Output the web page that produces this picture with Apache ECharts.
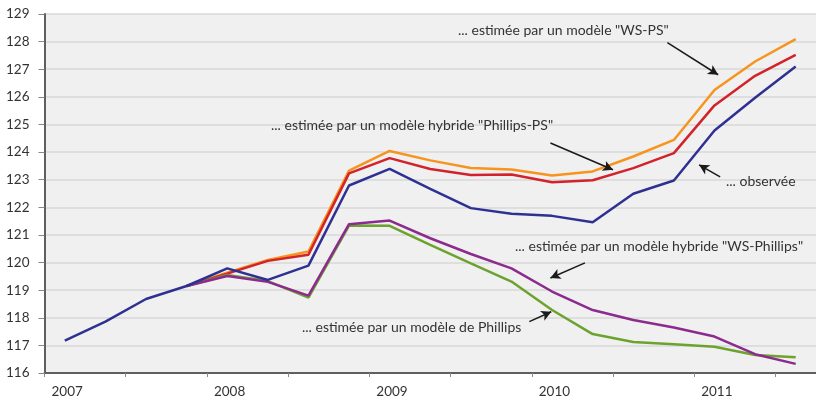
<!DOCTYPE html>
<html>
<head>
<meta charset="utf-8">
<script src="https://cdn.jsdelivr.net/npm/echarts@6/dist/echarts.min.js"></script>
<style>
html,body{margin:0;padding:0;background:#fff;}
#c{width:816px;height:401px;}
</style>
</head>
<body>
<div id="c"></div>
<script>
// Quarterly observations 2007Q1 .. 2011Q3
const startYear = 2007;
const quarters = ['2007T1','2007T2','2007T3','2007T4','2008T1','2008T2','2008T3','2008T4','2009T1','2009T2','2009T3','2009T4','2010T1','2010T2','2010T3','2010T4','2011T1','2011T2','2011T3'];
const observed   = [117.17,117.86,118.68,119.15,119.79,119.37,119.89,122.79,123.39,122.67,121.97,121.77,121.69,121.46,122.49,122.97,124.78,125.97,127.10];
const wsPs       = [null,null,null,119.15,119.63,120.09,120.40,123.33,124.04,123.70,123.42,123.37,123.15,123.30,123.84,124.44,126.25,127.28,128.09];
const phillipsPs = [null,null,null,119.15,119.60,120.06,120.28,123.23,123.78,123.39,123.17,123.19,122.91,122.98,123.42,123.96,125.69,126.76,127.52];
const wsPhillips = [null,null,null,119.15,119.51,119.30,118.80,121.39,121.52,120.88,120.31,119.79,118.95,118.28,117.92,117.65,117.32,116.68,116.33];
const phillips   = [null,null,null,119.15,119.55,119.33,118.73,121.34,121.33,120.64,119.97,119.31,118.28,117.41,117.12,117.04,116.95,116.65,116.57];
const yTicks = {min:116, max:129, step:1};

const toXY = arr => arr.map((v,i) => [i + 0.5, v]);
const FONT = 'Lato';

const annotations = [
  {text:'... estimée par un modèle "WS-PS"', x:458, y:32},
  {text:'... estimée par un modèle hybride "Phillips-PS"', x:271, y:127},
  {text:'... observée', x:726, y:183},
  {text:'... estimée par un modèle hybride "WS-Phillips"', x:515, y:248},
  {text:'... estimée par un modèle de Phillips', x:302, y:329}
];
const arrows = [
  [[15.34,127.96],[16.59,126.80]],
  [[12.46,124.33],[14.00,123.36]],
  [[16.64,123.10],[16.12,123.54]],
  [[13.31,119.99],[12.46,119.44]],
  [[11.94,117.86],[12.48,118.22]]
];

const chart = echarts.init(document.getElementById('c'), null, {renderer:'canvas'});
const mkLine = (name, data, color, extra) => Object.assign({
  name, type:'line', data: toXY(data), symbol:'none', connectNulls:false,
  lineStyle:{color, width:2.5}, itemStyle:{color}, animation:false, z:2
}, extra||{});

chart.setOption({
  animation:false,
  grid:{left:44.5, top:14, width:19*40.9, bottom:28, show:true, backgroundColor:'#f0f0f0', borderWidth:0},
  xAxis:{
    type:'value', min:0, max:quarters.length, interval:2,
    axisLine:{show:true, onZero:false, lineStyle:{color:'#5f5f5f', width:2}},
    axisTick:{show:true, length:4, lineStyle:{color:'#888', width:1}},
    splitLine:{show:false},
    axisLabel:{
      color:'#333', fontFamily:FONT, fontSize:13.5, align:'left', margin:12, padding:[0,0,0,7],
      showMaxLabel:false,
      formatter: v => (v % 4 === 0 ? String(startYear + v/4) : '')
    }
  },
  yAxis:{
    type:'value', min:yTicks.min, max:yTicks.max, interval:yTicks.step,
    axisLine:{show:true, lineStyle:{color:'#5f5f5f', width:2}},
    axisTick:{show:true, length:6, lineStyle:{color:'#888', width:1}},
    splitLine:{show:true, lineStyle:{color:'#d9d9d9', width:1.5}},
    axisLabel:{color:'#333', fontFamily:FONT, fontSize:13.5, margin:15}
  },
  series:[
    mkLine('WS-PS', wsPs, '#f7941d'),
    mkLine('Phillips-PS', phillipsPs, '#d2232a'),
    mkLine('Phillips', phillips, '#6ca22e'),
    mkLine('WS-Phillips', wsPhillips, '#8c2b8e'),
    mkLine('Observée', observed, '#2e3192', {
      markLine:{
        silent:true, symbol:['none','arrow'], symbolSize:[8,10],
        lineStyle:{color:'#1a1a1a', width:1.5, type:'solid'},
        label:{show:false}, animation:false,
        data: arrows.map(a => [{coord:a[0]},{coord:a[1]}])
      }
    })
  ],
  graphic: annotations.map(a => ({
    type:'text', left:a.x, top:a.y - 9, z:10,
    style:{text:a.text, fill:'#333', font:'14px ' + FONT}
  }))
});
</script>
</body>
</html>
